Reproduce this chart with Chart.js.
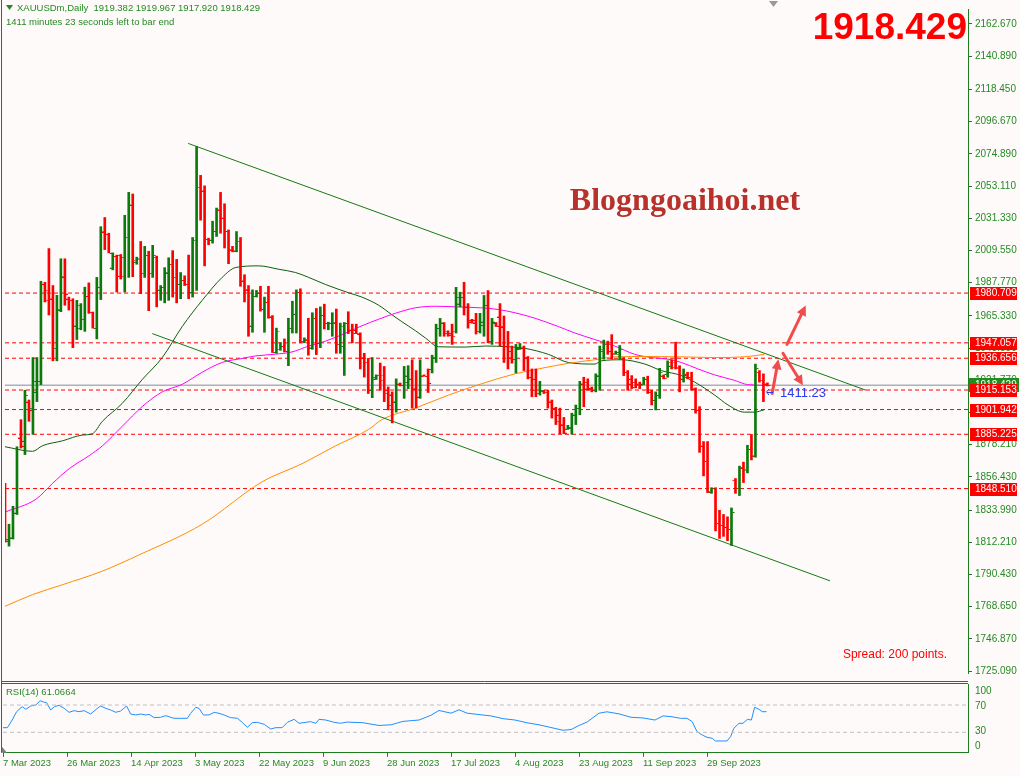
<!DOCTYPE html>
<html><head><meta charset="utf-8">
<script src="https://cdn.jsdelivr.net/npm/chart.js@4.4.1/dist/chart.umd.min.js"></script>
<style>
html,body{margin:0;padding:0;background:#fffafa;}
#wrap{position:relative;width:1020px;height:776px;background:#fffafa;overflow:hidden;}
#c1{position:absolute;left:0;top:0;}
#c2{position:absolute;left:0;top:682px;}
</style></head>
<body><div id="wrap"><canvas id="c1" width="1020" height="682"></canvas><canvas id="c2" width="1020" height="94"></canvas></div>
<script>
// ---------------- DATA ----------------
const symbol = 'XAUUSDm,Daily';
const lastQuote = ['1919.382','1919.967','1917.920','1918.429'];
const bidPrice = 1918.429;
const open = [1848.7,1813.3,1815.5,1832.1,1883.0,1880.8,1907.3,1902.9,1913.9,1921.2,1986.9,1982.5,1976.9,1943.3,1969.6,1991.8,1976.9,1975.8,1958.6,1957.0,
1963.0,1978.7,1967.7,1957.0,1984.7,2022.3,2020.5,1997.9,2005.7,2006.4,2005.0,2018.3,2040.4,2001.7,2003.5,1994.0,2006.4,1994.0,2005.0,1982.9,
1984.7,1994.6,2000.2,1991.3,1986.9,1989.5,1986.9,1981.4,2016.3,2052.1,2049.9,2017.2,2016.7,2022.7,2037.1,2031.6,2022.7,2010.1,2009.4,2015.6,
1989.1,1983.1,1958.6,1978.7,1980.9,1969.9,1974.7,1964.8,1940.9,1942.7,1944.9,1941.6,1957.0,1966.6,1981.4,1948.2,1949.3,1943.8,1963.7,1947.1,
1965.9,1960.4,1960.4,1960.8,1946.0,1944.9,1960.4,1955.9,1955.9,1953.3,1937.1,1933.8,1915.0,1922.8,1925.0,1925.0,1915.0,1912.1,1907.3,1919.4,
1918.3,1920.5,1922.7,1916.1,1910.6,1924.9,1924.5,1929.4,1937.1,1957.0,1960.4,1954.8,1953.7,1954.8,1973.6,1978.0,1971.4,1962.6,1962.6,1954.8,
1959.2,1972.5,1948.2,1960.4,1964.8,1958.1,1944.9,1941.5,1936.0,1943.1,1943.7,1937.1,1923.9,1922.7,1912.8,1914.6,1913.5,1907.3,1902.9,1898.4,
1891.8,1889.0,1889.6,1898.4,1902.9,1919.4,1920.5,1916.6,1915.0,1924.9,1941.5,1946.0,1941.5,1940.0,1939.3,1936.0,1927.2,1922.7,1920.5,1919.4,
1919.4,1922.7,1913.9,1908.4,1911.7,1924.9,1926.1,1933.8,1933.8,1929.8,1922.7,1926.1,1923.9,1916.1,1901.7,1877.4,1867.0,1846.5,1848.7,1825.0,
1823.7,1822.6,1821.0,1854.2,1848.7,1862.6,1860.8,1875.2,1870.8,1927.2,1921.6,1919.382];
const high = [1852.0,1824.4,1836.5,1876.8,1895.1,1915.0,1908.4,1937.1,1937.1,1988.7,1988.0,2010.8,1985.8,1979.2,2003.9,2003.9,1978.0,1976.9,1975.8,1973.6,
1984.7,1987.6,1967.9,1991.3,2025.6,2031.8,2021.2,2007.9,2006.4,2006.8,2033.3,2048.8,2047.7,2005.0,2015.6,2012.3,2009.0,2013.0,2005.7,1985.8,
1997.9,2004.6,2009.4,2003.5,1994.6,1992.4,2006.4,2018.3,2079.8,2060.3,2053.2,2017.8,2029.3,2038.2,2048.8,2041.1,2023.4,2012.3,2022.3,2018.3,
1993.1,1985.8,1982.9,1982.5,1985.3,1978.0,1985.3,1965.5,1957.0,1947.1,1949.7,1963.7,1975.2,1982.9,1983.6,1950.4,1963.7,1967.4,1970.3,1971.4,
1973.2,1961.0,1967.4,1969.9,1960.4,1960.8,1968.1,1959.7,1959.7,1953.8,1940.0,1936.5,1937.1,1925.4,1933.4,1931.1,1917.2,1913.9,1922.7,1919.9,
1931.1,1931.6,1935.6,1928.3,1935.6,1925.4,1929.4,1938.7,1959.7,1963.6,1960.8,1955.2,1959.7,1984.6,1981.3,1988.0,1973.6,1963.0,1967.0,1967.0,
1979.1,1982.4,1963.6,1960.8,1973.6,1965.2,1954.8,1944.9,1946.0,1946.6,1944.9,1937.8,1929.4,1929.4,1921.0,1915.0,1915.0,1908.4,1903.5,1902.9,
1896.6,1891.3,1899.5,1905.0,1921.0,1923.8,1922.7,1917.2,1926.1,1944.9,1948.9,1948.2,1952.6,1941.5,1945.3,1937.1,1928.3,1924.9,1922.7,1920.5,
1923.8,1924.5,1915.0,1913.9,1929.8,1925.4,1934.9,1935.6,1947.5,1931.6,1929.4,1927.2,1927.2,1916.6,1903.9,1880.3,1880.3,1849.1,1849.1,1833.8,
1831.0,1829.4,1835.4,1855.3,1863.7,1866.4,1877.8,1885.1,1932.7,1928.3,1926.1,1919.967];
const low = [1812.2,1809.6,1814.4,1831.0,1875.9,1871.5,1894.0,1885.2,1907.3,1918.8,1974.7,1965.9,1934.9,1934.9,1968.1,1972.5,1969.2,1943.8,1949.3,1955.9,
1954.8,1967.0,1957.0,1949.7,1976.3,2010.1,2007.9,1996.4,1981.4,1990.2,1981.4,1991.3,1991.8,2000.2,1980.3,1991.3,1968.8,1991.3,1971.4,1975.8,
1974.1,1975.8,1978.0,1974.1,1976.9,1985.8,1976.9,1978.0,1982.5,2030.0,1999.1,2013.4,2014.5,2019.0,2021.2,2011.2,2000.6,2008.6,2008.6,1985.3,
1974.7,1951.5,1954.2,1978.0,1968.5,1954.2,1963.7,1940.5,1940.0,1942.0,1940.9,1931.6,1953.7,1953.7,1947.1,1947.1,1938.7,1942.7,1939.1,1943.8,
1956.4,1955.9,1951.5,1940.0,1940.0,1925.0,1953.3,1947.1,1953.3,1929.4,1923.9,1912.8,1910.0,1922.3,1915.0,1907.3,1901.7,1892.9,1900.2,1917.9,
1909.5,1916.1,1902.9,1902.9,1909.5,1924.5,1913.5,1926.7,1933.8,1951.5,1951.5,1951.5,1946.0,1953.7,1971.4,1965.9,1957.0,1960.4,1953.0,1953.7,
1951.5,1947.1,1946.0,1958.1,1944.9,1933.8,1929.4,1933.3,1926.7,1942.6,1928.3,1922.7,1910.6,1910.6,1911.7,1912.8,1902.9,1896.2,1891.8,1885.6,
1885.6,1888.5,1885.2,1891.8,1898.4,1903.9,1915.0,1913.9,1913.9,1915.0,1936.0,1939.3,1936.0,1939.3,1936.0,1924.9,1915.0,1916.1,1916.6,1916.1,
1918.8,1912.8,1905.1,1901.7,1909.5,1922.7,1923.8,1929.4,1929.4,1913.9,1920.5,1922.7,1915.0,1899.5,1873.0,1857.1,1845.8,1845.3,1819.9,1814.8,
1816.2,1813.3,1810.0,1845.3,1843.8,1852.6,1859.1,1867.9,1869.7,1920.5,1907.3,1917.920];
const close = [1814.4,1815.1,1832.1,1875.2,1877.4,1911.7,1901.8,1921.2,1921.2,1986.9,1975.8,1976.9,1943.3,1969.6,1991.8,1980.3,1975.8,1958.6,1972.5,1963.0,
1978.7,1967.7,1957.0,1984.7,2022.3,2020.5,2007.9,2005.7,1992.4,1992.0,2018.3,2040.4,2002.8,2004.1,1994.0,2006.4,1994.0,2006.4,1982.9,1984.7,
1994.6,2000.2,1991.3,1986.9,1989.5,1986.9,1981.4,2016.3,2052.1,2049.9,2017.2,2016.7,2022.7,2037.1,2031.6,2022.7,2010.1,2009.4,2015.6,1989.1,
1983.1,1958.6,1978.7,1980.9,1969.9,1974.7,1964.8,1940.9,1954.8,1944.9,1941.6,1957.0,1966.6,1981.4,1948.2,1949.3,1943.8,1963.7,1947.1,1965.9,
1960.4,1960.6,1960.8,1946.0,1958.2,1960.4,1955.9,1953.7,1953.3,1937.1,1933.8,1915.0,1923.9,1925.0,1921.7,1913.0,1905.0,1907.3,1919.4,1918.3,
1924.9,1922.7,1916.1,1910.6,1924.9,1924.5,1920.0,1937.1,1957.0,1960.8,1953.7,1952.6,1951.5,1978.0,1978.0,1971.4,1961.4,1960.8,1954.8,1961.4,
1972.5,1948.2,1961.4,1958.6,1958.1,1944.9,1937.1,1936.0,1943.7,1943.7,1937.1,1923.9,1915.0,1912.8,1915.0,1913.5,1907.3,1902.9,1894.0,1891.8,
1886.3,1890.0,1898.4,1902.9,1919.4,1916.1,1916.1,1915.0,1924.9,1942.6,1946.0,1941.5,1939.3,1940.9,1942.6,1927.2,1919.4,1917.2,1918.3,1918.3,
1922.7,1913.9,1908.4,1911.7,1927.2,1923.2,1931.6,1930.5,1930.5,1922.7,1925.4,1923.9,1916.1,1901.7,1877.4,1867.0,1846.5,1848.7,1825.0,1823.7,
1822.6,1821.0,1832.7,1848.7,1863.0,1861.5,1875.2,1870.8,1930.0,1921.6,1919.4,1918.429];

// moving averages (bar index, value)
const maFastIdx = [0,6.9,9.4,14.4,19.4,21.9,24.4,29.4,34.4,39.4,44.4,49.4,54.4,57.8,63.6,68.6,72.8,76.1,80.3,86.1,89.4,93.6,97,99.4,102.8,105.3,108.6,115.3,120.3,126.1,130.3,136.1,141.1,147.8,149.4,154.4,160.3,164.4,169.4,172.8,177.8,181.1,185.2,187.8,190.2];
const maFastVal = [1876.8,1873.7,1877.5,1880.8,1884.7,1885.6,1894.0,1906.2,1922.3,1937.1,1958.1,1975.8,1991.3,1998.0,1999.1,1996.8,1994.6,1991.3,1986.5,1980.9,1978.0,1972.5,1965.9,1961.4,1955.3,1950.4,1944.4,1944.2,1944.9,1944.4,1943.3,1939.3,1933.8,1932.7,1934.9,1935.6,1932.7,1928.3,1925.0,1920.5,1911.7,1905.1,1900.2,1900.2,1901.8];
const maMidIdx = [0,7.8,11.9,16.1,21.1,24.4,29.4,34.4,39.4,44.4,49.4,54.4,59.4,62.8,67.8,71.9,76.1,80.3,84.4,89.4,93.6,97.75,102.75,107.75,112.75,119.4,123.6,127.75,132.75,138.6,142.75,147.75,152.75,157.75,161.9,166.1,169.4,173.6,177.75,182.75,186.1,191];
const maMidVal = [1832.6,1841.4,1852.0,1862.0,1870.8,1877.4,1890.7,1904.0,1913.9,1919.0,1927.2,1933.8,1936.5,1938.2,1939.4,1940.9,1944.9,1948.2,1952.6,1958.6,1963.0,1967.0,1970.7,1971.8,1971.4,1970.7,1969.6,1967.4,1963.7,1958.1,1953.7,1949.3,1944.9,1939.3,1937.1,1936.0,1933.8,1929.4,1925.4,1921.7,1918.8,1918.3];
const maSlowIdx = [0,6.9,14.4,24.4,33.7,49.4,64.4,74.4,82.8,91.1,94.4,102.75,111.1,119.4,127.75,133.6,141.1,147.75,152.75,161.1,169.4,177.75,186.1,190.25];
const maSlowVal = [1768.9,1776.8,1783.5,1792.7,1803.8,1824.4,1853.1,1865.3,1877.4,1888.5,1895.1,1902.9,1911.7,1919.4,1926.1,1929.4,1933.2,1935.6,1937.6,1937.8,1937.6,1937.1,1937.8,1939.3];

// channel (trend lines): [bar index, price]
const upperLine = [[45.9,2081.9],[215.7,1915.0]];
const lowerLine = [[36.9,1953.3],[206.7,1786.1]];

// horizontal levels
const levels = [1980.709,1947.057,1936.656,1915.153,1901.942,1885.225,1848.510];

// RSI(14)
const rsiIdx = [0,1.1,2.3,3.4,4.8,5.7,6.9,8.2,9.3,10.1,10.9,11.9,12.9,14,15.3,16.5,17.8,19,20.3,21.9,23.6,24.4,25.7,26.9,28.2,29.4,30.9,31.9,33.2,34.4,35.7,36.5,37.8,39.4,40.7,41.9,42.8,44.4,46.1,46.9,48.2,49,50.1,51.5,52.8,54,55.3,56.9,58.6,59.8,61.1,62.3,63.6,65.3,66.9,68.2,69.8,71.1,72.8,74,75.7,76.9,78.2,79,80.7,82.8,84.4,86,90,94,97,100,104,107,109,112,114,116,119,122,125,128,131,134,137,140,142,144,146,149,151,154,157,160,163,165,167,169.4,171,172.3,173.5,174.8,176,177.3,178.1,181,181.9,182.7,184,185,186.1,187.1,187.9,189,189.8,190.9];
const rsiVal = [36.8,36.8,48,60.2,67.6,63.7,68.5,70,76.3,74.4,73.4,62.7,67.6,69.5,65.1,59.3,61.7,60.2,61.7,56.8,65.1,68.5,65.1,62.7,59.3,61.2,68.5,56.8,55.4,56.8,55.4,56.3,51.5,52,54.4,52,50.5,50.5,50.5,57.8,66.6,65.1,55.4,55.4,59.3,57.8,55.4,51.5,50.5,44.6,37.3,44.1,44.6,41.7,34.9,36.8,36.8,44.6,49,43.2,44.6,45.6,43.2,49,48,44.6,43.2,45,44,40,41,46,48,55,62,58,63,58,56,54,50,48,44,41,37,33,34,40,45,58,60,57,52,51,48,54,53,50.5,50.5,45.6,31,26.1,22.7,21.2,17.3,17.3,23.6,35.8,43.2,43.2,49,48,66.6,63.7,60.2,60.2];
const rsiLast = '61.0664';
const rsiLevels = [70, 30];

// axes
const priceTicks = [2162.670,2140.890,2118.450,2096.670,2074.890,2053.110,2031.330,2009.550,1987.770,1965.330,1943.550,1921.770,1899.990,1878.210,1856.430,1833.990,1812.210,1790.430,1768.650,1746.870,1725.090];
const xTickIdx = [0,16,32,48,64,80,96,112,128,144,160,176];
const xTickLbl = ['7 Mar 2023','26 Mar 2023','14 Apr 2023','3 May 2023','22 May 2023','9 Jun 2023','28 Jun 2023','17 Jul 2023','4 Aug 2023','23 Aug 2023','11 Sep 2023','29 Sep 2023'];

// ---------------- STYLE ----------------
const X_MIN = 0, X_MAX = 241.25;
const Y_MIN = 1723.8, Y_MAX = 2172.8;
const UP = '#0b7a0b', DN = '#ff0000';
const AXIS_G = '#1e7d1e';
const TXT_G = '#238a23';
const FONT = 'Liberation Sans, Arial, sans-serif';

function tickImg(color, side){
  const c = document.createElement('canvas'); c.width = 8; c.height = 2;
  const g = c.getContext('2d'); g.fillStyle = color;
  if (side === 'L') g.fillRect(1,1,2,1); else g.fillRect(5,1,2,1);
  return c;
}
const IMG = {upL:tickImg(UP,'L'), upR:tickImg(UP,'R'), dnL:tickImg(DN,'L'), dnR:tickImg(DN,'R')};
const isUp = i => close[i] >= open[i];

const levelSets = levels.map(v => ({type:'line', data:[{x:X_MIN,y:v},{x:X_MAX,y:v}], borderColor:'#ff0000', borderWidth:1, borderDash:[4,3], pointRadius:0, order:5}));

const frame1 = {
  id:'frame1',
  afterDraw(ch){
    const ctx = ch.ctx, a = ch.chartArea, ys = ch.scales.y, xs = ch.scales.x;
    const X = i => xs.getPixelForValue(i), Y = v => ys.getPixelForValue(v);
    ctx.save();
    ctx.strokeStyle = AXIS_G; ctx.lineWidth = 1;
    ctx.beginPath(); ctx.moveTo(1.5,0); ctx.lineTo(1.5,682); ctx.moveTo(1.5,681.5); ctx.lineTo(a.right,681.5); ctx.stroke();
    ctx.fillStyle = '#9a9a9a';
    ctx.beginPath(); ctx.moveTo(769,1); ctx.lineTo(778,1); ctx.lineTo(773.5,7); ctx.closePath(); ctx.fill();
    ctx.font = '10px ' + FONT; ctx.textBaseline = 'middle'; ctx.textAlign = 'left';
    let yb = Math.round(Y(bidPrice));
    ctx.fillStyle = '#1e8c1e'; ctx.fillRect(969, yb-7, 50, 14);
    ctx.fillStyle = '#fff'; ctx.fillText(bidPrice.toFixed(3), 975, yb);
    levels.forEach(v => {
      const y = Math.round(Y(v));
      ctx.fillStyle = '#ff0000'; ctx.fillRect(970, y-6, 47, 13);
      ctx.fillStyle = '#ffffff'; ctx.fillText(v.toFixed(3), 975, y+0.5);
    });
    const arrows = [[192.2,1912.8,193.75,1936.0],[195.9,1946.0,200.6,1972.3],[194.9,1940.0,199.9,1918.3]];
    ctx.strokeStyle = '#f24b4b'; ctx.fillStyle = '#f24b4b'; ctx.lineWidth = 3; ctx.lineCap = 'round';
    arrows.forEach(r => {
      const x1 = X(r[0]), y1 = Y(r[1]), x2 = X(r[2]), y2 = Y(r[3]);
      const an = Math.atan2(y2-y1, x2-x1), hl = 10, hw = 5;
      ctx.beginPath(); ctx.moveTo(x1,y1); ctx.lineTo(x2-hl*0.8*Math.cos(an), y2-hl*0.8*Math.sin(an)); ctx.stroke();
      ctx.beginPath(); ctx.moveTo(x2,y2);
      ctx.lineTo(x2-hl*Math.cos(an)+hw*Math.sin(an), y2-hl*Math.sin(an)-hw*Math.cos(an));
      ctx.lineTo(x2-hl*Math.cos(an)-hw*Math.sin(an), y2-hl*Math.sin(an)+hw*Math.cos(an));
      ctx.closePath(); ctx.fill();
    });
    ctx.strokeStyle = '#2a3cf0'; ctx.lineWidth = 1; ctx.lineCap = 'butt';
    const cy = Math.round(Y(1913.6));
    ctx.beginPath(); ctx.moveTo(769,cy-3); ctx.lineTo(766.5,cy); ctx.lineTo(769,cy+3); ctx.moveTo(767,cy+0.5); ctx.lineTo(773,cy+0.5); ctx.stroke();
    ctx.fillStyle = '#2a3cf0'; ctx.font = '13px ' + FONT; ctx.textBaseline = 'middle';
    ctx.fillText('1411:23', 780, cy+1);
    ctx.fillStyle = TXT_G; ctx.font = '9.5px ' + FONT; ctx.textBaseline = 'middle';
    ctx.beginPath(); ctx.moveTo(6,5); ctx.lineTo(13,5); ctx.lineTo(9.5,10); ctx.closePath(); ctx.fill();
    ctx.fillText(symbol + '  ' + lastQuote.join(' '), 17, 8);
    ctx.fillText('1411 minutes 23 seconds left to bar end', 6, 22);
    ctx.fillStyle = '#ff0000'; ctx.font = 'bold 37px ' + FONT; ctx.textAlign = 'right'; ctx.textBaseline = 'alphabetic';
    ctx.fillText(lastQuote[3], 967, 39);
    ctx.font = '12px ' + FONT; ctx.fillText('Spread: 200 points.', 947, 658);
    ctx.textAlign = 'center'; ctx.font = 'bold 32px "Liberation Serif", "Times New Roman", serif';
    ctx.fillStyle = 'rgba(255,255,255,0.9)'; ctx.fillText('Blogngoaihoi.net', 686, 211);
    ctx.fillStyle = '#b8312a'; ctx.fillText('Blogngoaihoi.net', 685, 210);
    ctx.restore();
  }
};

const ch1 = new Chart(document.getElementById('c1'), {
  data:{datasets:[
    ...levelSets,
    {type:'line', data:[{x:X_MIN,y:bidPrice},{x:X_MAX,y:bidPrice}], borderColor:'#7b8ca0', borderWidth:1, pointRadius:0, order:4},
    {type:'line', data:upperLine.map(p=>({x:p[0],y:p[1]})), borderColor:'#137a13', borderWidth:1, pointRadius:0, order:3},
    {type:'line', data:lowerLine.map(p=>({x:p[0],y:p[1]})), borderColor:'#137a13', borderWidth:1, pointRadius:0, order:3},
    {type:'line', data:maSlowIdx.map((x,i)=>({x, y:maSlowVal[i]})), borderColor:'#ff8c00', borderWidth:1, pointRadius:0, cubicInterpolationMode:'monotone', order:3},
    {type:'line', data:maMidIdx.map((x,i)=>({x, y:maMidVal[i]})), borderColor:'#ff00ff', borderWidth:1, pointRadius:0, cubicInterpolationMode:'monotone', order:3},
    {type:'line', data:maFastIdx.map((x,i)=>({x, y:maFastVal[i]})), borderColor:'#0a5f0a', borderWidth:1, pointRadius:0, cubicInterpolationMode:'monotone', order:3},
    {type:'bar', data:open.map((o,i)=>({x:i, y:[low[i], high[i]]})), backgroundColor:open.map((o,i)=>isUp(i)?UP:DN), barThickness:2, grouped:false, borderWidth:0, order:1},
    {type:'scatter', data:open.map((o,i)=>({x:i, y:o})), pointStyle:c=>isUp(c.dataIndex)?IMG.upL:IMG.dnL, pointRadius:1, order:0},
    {type:'scatter', data:close.map((o,i)=>({x:i, y:o})), pointStyle:c=>isUp(c.dataIndex)?IMG.upR:IMG.dnR, pointRadius:1, order:0}
  ]},
  options:{
    responsive:false, animation:false, devicePixelRatio:1,
    layout:{padding:{left:3, top:3, right:0, bottom:2}},
    plugins:{legend:{display:false}, tooltip:{enabled:false}},
    scales:{
      x:{type:'linear', min:X_MIN, max:X_MAX, display:false, offset:false, grid:{offset:false}},
      y:{type:'linear', position:'right', min:Y_MIN, max:Y_MAX,
         afterBuildTicks:s=>{s.ticks = priceTicks.map(v=>({value:v}));},
         afterFit:s=>{s.width = 52;},
         ticks:{callback:v=>Number(v).toFixed(3), color:TXT_G, font:{family:FONT, size:10}, padding:3, autoSkip:false},
         grid:{drawOnChartArea:false, drawTicks:true, tickLength:4, color:AXIS_G},
         border:{display:true, color:AXIS_G, width:1}}
    }
  },
  plugins:[frame1]
});

const frame2 = {
  id:'frame2',
  afterDraw(ch){
    const ctx = ch.ctx, a = ch.chartArea, ys = ch.scales.y;
    ctx.save();
    ctx.strokeStyle = AXIS_G; ctx.lineWidth = 1;
    ctx.beginPath(); ctx.moveTo(1.5,0); ctx.lineTo(1.5,a.bottom); ctx.moveTo(1.5,1.5); ctx.lineTo(a.right,1.5); ctx.stroke();
    ctx.fillStyle = TXT_G; ctx.font = '10px ' + FONT; ctx.textBaseline = 'middle'; ctx.textAlign = 'left';
    [[100,6.5],[70,1],[30,-1],[0,-6.5]].forEach(p => ctx.fillText(String(p[0]), 975, ys.getPixelForValue(p[0]) + p[1]));
    ctx.font = '9.5px ' + FONT;
    ctx.fillText('RSI(14) ' + rsiLast, 6, 10);
    ctx.fillStyle = '#7f7f7f';
    ctx.beginPath(); ctx.moveTo(2,a.bottom-6); ctx.lineTo(2,a.bottom); ctx.lineTo(7,a.bottom); ctx.closePath(); ctx.fill();
    ctx.restore();
  }
};

const ch2 = new Chart(document.getElementById('c2'), {
  data:{datasets:[
    ...rsiLevels.map(v => ({type:'line', data:[{x:X_MIN,y:v},{x:X_MAX,y:v}], borderColor:'#c0c0c0', borderWidth:1, borderDash:[4,3], pointRadius:0})),
    {type:'line', data:rsiIdx.map((x,i)=>({x, y:rsiVal[i]})), borderColor:'#1e90ff', borderWidth:1, pointRadius:0}
  ]},
  options:{
    responsive:false, animation:false, devicePixelRatio:1,
    layout:{padding:{left:3, top:2.5, right:0, bottom:0}},
    plugins:{legend:{display:false}, tooltip:{enabled:false}},
    scales:{
      x:{type:'linear', min:X_MIN, max:X_MAX, offset:false,
         afterBuildTicks:s=>{s.ticks = xTickIdx.map(v=>({value:v}));},
         afterFit:s=>{s.height = 23.2;},
         ticks:{callback:v=>xTickLbl[xTickIdx.indexOf(v)], align:'start', color:TXT_G, font:{family:FONT, size:9.5}, padding:1, maxRotation:0, autoSkip:false},
         grid:{drawOnChartArea:false, drawTicks:true, tickLength:4, color:AXIS_G},
         border:{display:true, color:AXIS_G, width:1}},
      y:{type:'linear', position:'right', min:0, max:100,
         afterFit:s=>{s.width = 52;},
         ticks:{display:false},
         grid:{display:false},
         border:{display:true, color:AXIS_G, width:1}}
    }
  },
  plugins:[frame2]
});
</script>
</body></html>
